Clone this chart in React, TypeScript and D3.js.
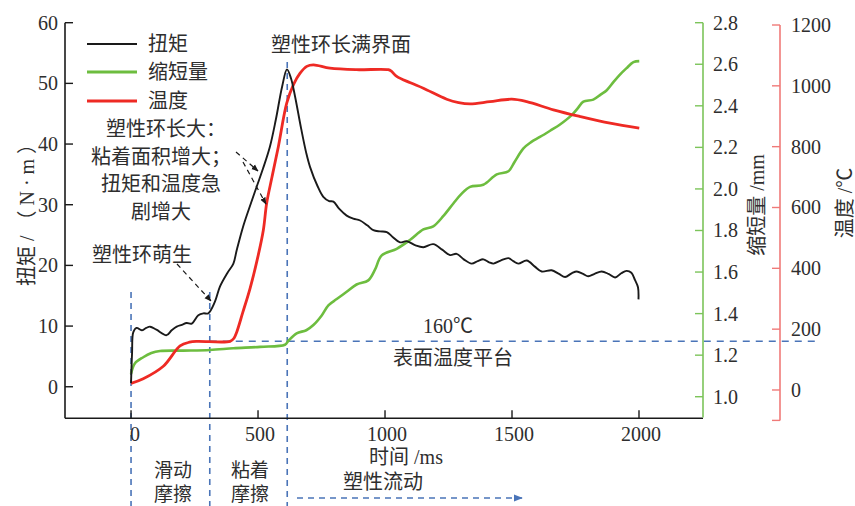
import React from "react";
import * as d3 from "d3";

// Time axis (ms)
const timeTicks = [0, 500, 1000, 1500, 2000];
const torqueTicks = [0, 10, 20, 30, 40, 50, 60];
const shortTicks = [1.0, 1.2, 1.4, 1.6, 1.8, 2.0, 2.2, 2.4, 2.6, 2.8];
const tempTicks = [0, 200, 400, 600, 800, 1000, 1200];

// Torque (N·m) vs time (ms)
const torqueT = [0, 4, 9, 22, 42, 60, 75, 100, 140, 160, 180, 200, 219, 239, 265, 285, 304, 330, 350, 380, 403, 416, 442, 470, 495, 520, 547, 570, 595, 614, 630, 646, 670, 690, 705, 735, 757, 780, 797, 820, 849, 875, 902, 930, 954, 980, 1007, 1030, 1059, 1085, 1120, 1151, 1190, 1225, 1256, 1282, 1310, 1341, 1365, 1387, 1410, 1427, 1455, 1486, 1505, 1525, 1558, 1590, 1617, 1656, 1685, 1709, 1735, 1755, 1780, 1800, 1825, 1853, 1880, 1906, 1930, 1951, 1970, 1984, 1996, 1998];
const torqueV = [0.6, 5.5, 9.0, 9.7, 9.3, 9.7, 9.9, 9.4, 8.5, 9.3, 9.9, 10.2, 10.5, 10.4, 11.8, 12.1, 12.1, 14.0, 16.5, 18.8, 20.3, 22.5, 26.5, 30.0, 33.0, 36.0, 39.6, 44.0, 49.5, 52.3, 50.8, 47.8, 42.5, 38.5, 36.2, 33.0, 31.3, 30.6, 30.5, 29.3, 28.2, 27.7, 27.4, 26.6, 25.8, 25.6, 25.5, 24.7, 23.8, 24.0, 23.3, 23.0, 23.5, 22.6, 21.7, 21.9, 21.0, 20.3, 20.7, 21.0, 20.5, 20.3, 20.8, 21.2, 20.7, 20.3, 20.8, 19.8, 19.0, 19.2, 18.6, 18.1, 18.7, 19.0, 18.6, 18.2, 18.6, 19.0, 18.6, 18.0, 18.7, 19.1, 18.8, 17.6, 16.4, 14.4];

// Axial shortening (mm) vs time (ms)
const shortT = [0, 15, 48, 80, 114, 206, 311, 403, 508, 606, 620, 652, 690, 718, 750, 777, 810, 849, 888, 934, 960, 987, 1046, 1098, 1151, 1190, 1230, 1269, 1300, 1335, 1387, 1440, 1486, 1510, 1545, 1575, 1610, 1650, 1689, 1735, 1760, 1781, 1820, 1850, 1873, 1900, 1925, 1950, 1978, 2001];
const shortV = [1.11, 1.16, 1.19, 1.21, 1.22, 1.222, 1.225, 1.233, 1.24, 1.25, 1.27, 1.305, 1.32, 1.345, 1.39, 1.44, 1.47, 1.505, 1.54, 1.56, 1.61, 1.68, 1.712, 1.754, 1.805, 1.82, 1.87, 1.93, 1.975, 2.01, 2.02, 2.07, 2.085, 2.13, 2.195, 2.225, 2.25, 2.28, 2.31, 2.355, 2.39, 2.42, 2.43, 2.455, 2.475, 2.515, 2.55, 2.58, 2.61, 2.615];

// Interface temperature (°C) vs time (ms); surface plateau at 160 °C
const plateauTemp = 160;
const tempT = [0, 48, 127, 193, 230, 259, 390, 405, 416, 440, 469, 500, 521, 534, 555, 580, 613, 640, 665, 692, 718, 783, 888, 1013, 1025, 1046, 1100, 1151, 1243, 1290, 1335, 1413, 1499, 1558, 1663, 1768, 1886, 2001];
const tempV = [22, 37, 78, 145, 157, 160, 160, 170, 190, 255, 335, 440, 526, 614, 700, 800, 943, 1005, 1041, 1064, 1069, 1058, 1053, 1053, 1048, 1031, 1010, 992, 956, 945, 941, 948, 956, 948, 921, 899, 877, 861];

// Stage boundaries (ms)
const stageBounds = [0, 310, 615];

const FONT = "'Liberation Serif', 'Noto Sans CJK SC', serif";
const TXT = "#2e2e2e";
const BLACK = "#1a1a1a";
const GREEN = "#6dbd3f";
const RED = "#ee2a24";
const RED_AXIS = "#f07a78";
const GREEN_AXIS = "#7cc45a";
const BLUE = "#4a74b8";

export default function App() {
  const x = d3.scaleLinear().domain([-260, 2252]).range([65, 703]);
  const yT = d3.scaleLinear().domain([-5.2, 60]).range([418.3, 22.7]);
  const yS = d3.scaleLinear().domain([0.9, 2.8]).range([417.5, 22.7]);
  const yH = d3.scaleLinear().domain([-100, 1200]).range([420.4, 25]);

  const curve = d3.curveCatmullRom.alpha(0.5);
  const torqueLine = d3
    .line<number>()
    .x((_, i) => x(torqueT[i]))
    .y((v) => yT(v))
    .curve(curve)(torqueV) as string;
  const shortLine = d3
    .line<number>()
    .x((_, i) => x(shortT[i]))
    .y((v) => yS(v))
    .curve(curve)(shortV) as string;
  const tempLine = d3
    .line<number>()
    .x((_, i) => x(tempT[i]))
    .y((v) => yH(v))
    .curve(curve)(tempV) as string;

  const axisY = 418.3;
  const plateauY = yH(plateauTemp);
  const fs = 20;

  return (
    <svg
      width={855}
      height={506}
      style={{ position: "absolute", left: 0, top: 0, background: "#fff" }}
      fontFamily={FONT}
    >
      <defs>
        <marker id="arrBlack" viewBox="0 0 10 10" refX="9" refY="5" markerWidth="6" markerHeight="6" orient="auto">
          <path d="M0,1 L10,5 L0,9 Z" fill={BLACK} />
        </marker>
        <marker id="arrBlue" viewBox="0 0 10 10" refX="9" refY="5" markerWidth="6" markerHeight="6" orient="auto">
          <path d="M0,1 L10,5 L0,9 Z" fill={BLUE} />
        </marker>
      </defs>

      {/* stage boundary dashed lines */}
      {stageBounds.map((t, i) => (
        <line
          key={"sb" + i}
          x1={x(t)}
          x2={x(t)}
          y1={i === 2 ? 62 : 292}
          y2={506}
          stroke={BLUE}
          strokeWidth={1.6}
          strokeDasharray="6,5"
        />
      ))}
      {/* surface temperature plateau */}
      <line x1={x(stageBounds[1])} x2={815} y1={plateauY} y2={plateauY} stroke={BLUE} strokeWidth={1.4} strokeDasharray="7,6" />
      {/* plastic flow arrow */}
      <line x1={297} x2={522} y1={498} y2={498} stroke={BLUE} strokeWidth={1.5} strokeDasharray="6,5" markerEnd="url(#arrBlue)" />

      {/* left torque axis */}
      <line x1={65} x2={65} y1={yT(60)} y2={axisY} stroke={BLACK} strokeWidth={1.6} />
      {torqueTicks.map((v) => (
        <g key={"tt" + v}>
          <line x1={65} x2={73} y1={yT(v)} y2={yT(v)} stroke={BLACK} strokeWidth={1.4} />
          <text x={58} y={yT(v)} textAnchor="end" dominantBaseline="central" fontSize={fs} fill={TXT}>
            {v}
          </text>
        </g>
      ))}
      {/* time axis */}
      <line x1={65} x2={703} y1={axisY} y2={axisY} stroke={BLACK} strokeWidth={1.6} />
      {timeTicks.map((t) => (
        <g key={"xt" + t}>
          <line x1={x(t)} x2={x(t)} y1={axisY} y2={axisY - 8} stroke={BLACK} strokeWidth={1.4} />
          <text x={x(t) + (t === 0 ? 4 : 2)} y={434} textAnchor="middle" dominantBaseline="central" fontSize={fs} fill={TXT}>
            {t}
          </text>
        </g>
      ))}

      {/* shortening axis */}
      <line x1={703} x2={703} y1={yS(2.8)} y2={yS(0.9)} stroke={GREEN_AXIS} strokeWidth={1.6} />
      {shortTicks.map((v) => (
        <g key={"st" + v}>
          <line x1={695} x2={703} y1={yS(v)} y2={yS(v)} stroke={GREEN_AXIS} strokeWidth={1.4} />
          <text x={713} y={yS(v)} textAnchor="start" dominantBaseline="central" fontSize={fs} fill={TXT}>
            {v.toFixed(1)}
          </text>
        </g>
      ))}

      {/* temperature axis */}
      <line x1={780} x2={780} y1={yH(1200)} y2={yH(-100)} stroke={RED_AXIS} strokeWidth={1.6} />
      <line x1={772} x2={780} y1={yH(-100)} y2={yH(-100)} stroke={RED_AXIS} strokeWidth={1.4} />
      {tempTicks.map((v) => (
        <g key={"ht" + v}>
          <line x1={772} x2={780} y1={yH(v)} y2={yH(v)} stroke={RED_AXIS} strokeWidth={1.4} />
          <text x={791} y={yH(v)} textAnchor="start" dominantBaseline="central" fontSize={fs} fill={TXT}>
            {v}
          </text>
        </g>
      ))}

      {/* axis titles */}
      <text transform="translate(27,210) rotate(-90)" textAnchor="middle" dominantBaseline="central" fontSize={fs} fill={TXT}>
        扭矩 / （ N · m ）
      </text>
      <text transform="translate(757,205) rotate(-90)" textAnchor="middle" dominantBaseline="central" fontSize={fs} fill={TXT}>
        缩短量 /mm
      </text>
      <text transform="translate(845,203) rotate(-90)" textAnchor="middle" dominantBaseline="central" fontSize={fs} fill={TXT}>
        温度 /℃
      </text>
      <text x={406} y={457} textAnchor="middle" dominantBaseline="central" fontSize={fs} fill={TXT}>
        时间 /ms
      </text>

      {/* data series */}
      <path d={shortLine} fill="none" stroke={GREEN} strokeWidth={2.6} />
      <path d={tempLine} fill="none" stroke={RED} strokeWidth={2.8} />
      <path d={torqueLine} fill="none" stroke={BLACK} strokeWidth={1.9} />

      {/* legend */}
      {[
        { label: "扭矩", color: BLACK, y: 44, w: 2 },
        { label: "缩短量", color: GREEN, y: 72, w: 2.8 },
        { label: "温度", color: RED, y: 101, w: 2.8 },
      ].map((d) => (
        <g key={d.label}>
          <line x1={87} x2={137} y1={d.y} y2={d.y} stroke={d.color} strokeWidth={d.w} />
          <text x={148} y={d.y} dominantBaseline="central" fontSize={fs} fill={TXT}>
            {d.label}
          </text>
        </g>
      ))}

      {/* annotations */}
      <text x={341} y={45} textAnchor="middle" dominantBaseline="central" fontSize={fs} fill={TXT}>
        塑性环长满界面
      </text>
      {["塑性环长大：", "粘着面积增大；", "扭矩和温度急", "剧增大"].map((s, i) => (
        <text key={s} x={i === 0 ? 166 : 161} y={129 + i * 27.5} textAnchor="middle" dominantBaseline="central" fontSize={fs} fill={TXT}>
          {s}
        </text>
      ))}
      <line x1={236} y1={152} x2={258} y2={171} stroke={BLACK} strokeWidth={1.2} strokeDasharray="5,4" markerEnd="url(#arrBlack)" />
      <line x1={243} y1={162} x2={266} y2={204} stroke={BLACK} strokeWidth={1.2} strokeDasharray="5,4" markerEnd="url(#arrBlack)" />

      <text x={142} y={255} textAnchor="middle" dominantBaseline="central" fontSize={fs} fill={TXT}>
        塑性环萌生
      </text>
      <line x1={177} y1={264} x2={211} y2={301} stroke={BLACK} strokeWidth={1.2} strokeDasharray="5,4" markerEnd="url(#arrBlack)" />

      <text x={448} y={plateauY - 15} textAnchor="middle" dominantBaseline="central" fontSize={fs} fill={TXT}>
        160℃
      </text>
      <text x={453} y={plateauY + 17} textAnchor="middle" dominantBaseline="central" fontSize={fs} fill={TXT}>
        表面温度平台
      </text>

      {/* stage labels */}
      <text x={173} y={470} textAnchor="middle" dominantBaseline="central" fontSize={19} fill={TXT}>滑动</text>
      <text x={173} y={494} textAnchor="middle" dominantBaseline="central" fontSize={19} fill={TXT}>摩擦</text>
      <text x={250} y={470} textAnchor="middle" dominantBaseline="central" fontSize={19} fill={TXT}>粘着</text>
      <text x={250} y={494} textAnchor="middle" dominantBaseline="central" fontSize={19} fill={TXT}>摩擦</text>
      <text x={383} y={482} textAnchor="middle" dominantBaseline="central" fontSize={fs} fill={TXT}>塑性流动</text>
    </svg>
  );
}
